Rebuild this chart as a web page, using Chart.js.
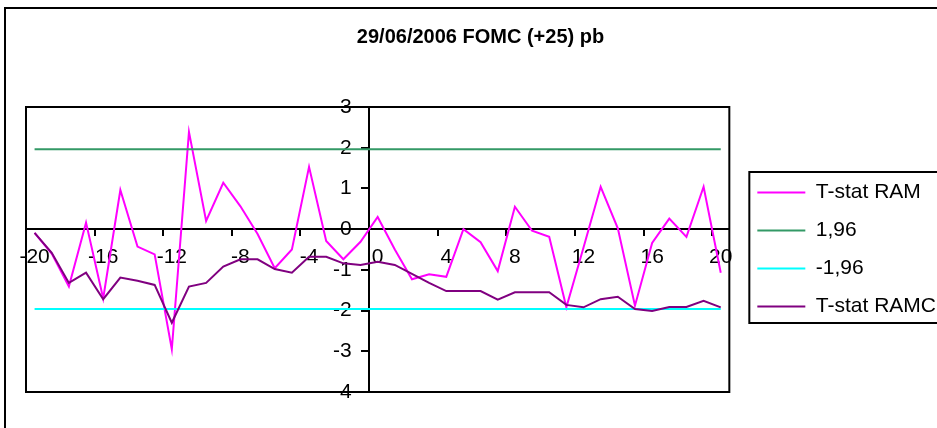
<!DOCTYPE html>
<html><head><meta charset="utf-8">
<script src="https://cdn.jsdelivr.net/npm/chart.js@4.4.1/dist/chart.umd.min.js"></script>
<style>
html,body{margin:0;padding:0;width:937px;height:428px;overflow:hidden;background:#fff;}
#frame{position:absolute;left:4px;top:7px;width:1100px;height:600px;border-left:2px solid #000;border-top:2px solid #000;}
#wrap{position:absolute;left:0;top:0;width:960px;height:428px;}
</style></head><body>
<div id="frame"></div>
<div id="wrap"><canvas id="c" width="960" height="428"></canvas></div>
<script>
const chartTitle = '29/06/2006 FOMC (+25) pb';
const categories = ['-20','-19','-18','-17','-16','-15','-14','-13','-12','-11','-10','-9','-8','-7','-6','-5','-4','-3','-2','-1','0','1','2','3','4','5','6','7','8','9','10','11','12','13','14','15','16','17','18','19','20'];
const tStatRAM = [-0.09,-0.60,-1.41,0.16,-1.70,0.96,-0.43,-0.62,-2.95,2.39,0.20,1.14,0.56,-0.12,-0.96,-0.50,1.53,-0.29,-0.74,-0.31,0.30,-0.50,-1.23,-1.11,-1.17,0.00,-0.32,-1.03,0.55,-0.04,-0.19,-1.92,-0.45,1.04,0.02,-1.88,-0.34,0.26,-0.19,1.04,-1.07];
const upper196 = [1.96,1.96,1.96,1.96,1.96,1.96,1.96,1.96,1.96,1.96,1.96,1.96,1.96,1.96,1.96,1.96,1.96,1.96,1.96,1.96,1.96,1.96,1.96,1.96,1.96,1.96,1.96,1.96,1.96,1.96,1.96,1.96,1.96,1.96,1.96,1.96,1.96,1.96,1.96,1.96,1.96];
const lower196 = [-1.96,-1.96,-1.96,-1.96,-1.96,-1.96,-1.96,-1.96,-1.96,-1.96,-1.96,-1.96,-1.96,-1.96,-1.96,-1.96,-1.96,-1.96,-1.96,-1.96,-1.96,-1.96,-1.96,-1.96,-1.96,-1.96,-1.96,-1.96,-1.96,-1.96,-1.96,-1.96,-1.96,-1.96,-1.96,-1.96,-1.96,-1.96,-1.96,-1.96,-1.96];
const tStatRAMC = [-0.09,-0.58,-1.32,-1.07,-1.72,-1.19,-1.27,-1.37,-2.30,-1.41,-1.32,-0.92,-0.74,-0.74,-0.98,-1.07,-0.68,-0.68,-0.84,-0.88,-0.80,-0.88,-1.10,-1.32,-1.52,-1.52,-1.52,-1.73,-1.55,-1.55,-1.55,-1.86,-1.92,-1.72,-1.66,-1.96,-2.01,-1.91,-1.91,-1.76,-1.92];
const seriesNames = ['T-stat RAM','1,96','-1,96','T-stat RAMC'];
const yTicks = [3,2,1,0,-1,-2,-3,-4];

Chart.defaults.font.family = "'Liberation Sans', Arial, sans-serif";
Chart.defaults.font.size = 21;
Chart.defaults.color = '#000';

const framePlugin = {
  id: 'frames',
  afterLayout(chart) {
    const lg = chart.legend;
    lg.left += 11; lg.right += 11;
  },
  beforeDatasetsDraw(chart) {
    const a = chart.chartArea, ctx = chart.ctx;
    ctx.save(); ctx.strokeStyle = '#000'; ctx.lineWidth = 2;
    ctx.strokeRect(a.left, a.top, a.right - a.left, a.bottom - a.top);
    ctx.restore();
  },
  afterDraw(chart) {
    const hb = chart.legend.legendHitBoxes;
    if (!hb || !hb.length) return;
    const f = hb[0], l = hb[hb.length - 1];
    const ctx = chart.ctx;
    ctx.save(); ctx.strokeStyle = '#000'; ctx.lineWidth = 2;
    const top = f.top - 10, bottom = l.top + l.height + 6;
    ctx.strokeRect(f.left - 8, top, chart.width, bottom - top);
    ctx.restore();
  }
};

const mk = (label, data, color, order) => ({label, data, borderColor: color, backgroundColor: color, borderWidth: 2, pointRadius: 0, pointHoverRadius: 0, tension: 0, fill: false, order});

new Chart(document.getElementById('c'), {
  type: 'line',
  data: {
    labels: categories,
    datasets: [
      mk(seriesNames[0], tStatRAM, '#FF00FF', 3),
      mk(seriesNames[1], upper196, '#339966', 2),
      mk(seriesNames[2], lower196, '#00FFFF', 1),
      mk(seriesNames[3], tStatRAMC, '#800080', 0)
    ]
  },
  options: {
    responsive: false,
    animation: false,
    devicePixelRatio: 1,
    layout: {padding: {left: 26, right: 25, top: 0, bottom: 36}},
    scales: {
      x: {
        type: 'category',
        offset: true,
        position: {y: 0},
        grid: {offset: true, drawOnChartArea: false, drawTicks: true, tickLength: 6, lineWidth: 2,
               color: c => (c.index % 4 === 0 ? '#000' : 'rgba(0,0,0,0)')},
        border: {display: true, color: '#000', width: 2},
        ticks: {autoSkip: false, maxRotation: 0, minRotation: 0, padding: 9, color: '#000',
                callback: function(v, i) { return i % 4 === 0 ? this.getLabelForValue(v) : ''; }}
      },
      y: {
        min: -4, max: 3,
        position: {x: 19.5},
        afterBuildTicks: s => { s.ticks = yTicks.map(v => ({value: v})); },
        ticks: {color: '#000', callback: v => v + '   '},
        grid: {drawOnChartArea: false, tickLength: 7, lineWidth: 2, color: '#000'},
        border: {display: true, color: '#000', width: 2}
      }
    },
    plugins: {
      title: {display: true, text: chartTitle, color: '#000', font: {size: 20, weight: 'bold'}, padding: {top: 25, bottom: 58}},
      legend: {
        position: 'right', fullSize: false, align: 'center',
        labels: {usePointStyle: true, pointStyle: 'line', pointStyleWidth: 48, padding: 17, color: '#000',
                 sort: (a, b) => a.datasetIndex - b.datasetIndex}
      },
      tooltip: {enabled: false}
    }
  },
  plugins: [framePlugin]
});
</script>
</body></html>
